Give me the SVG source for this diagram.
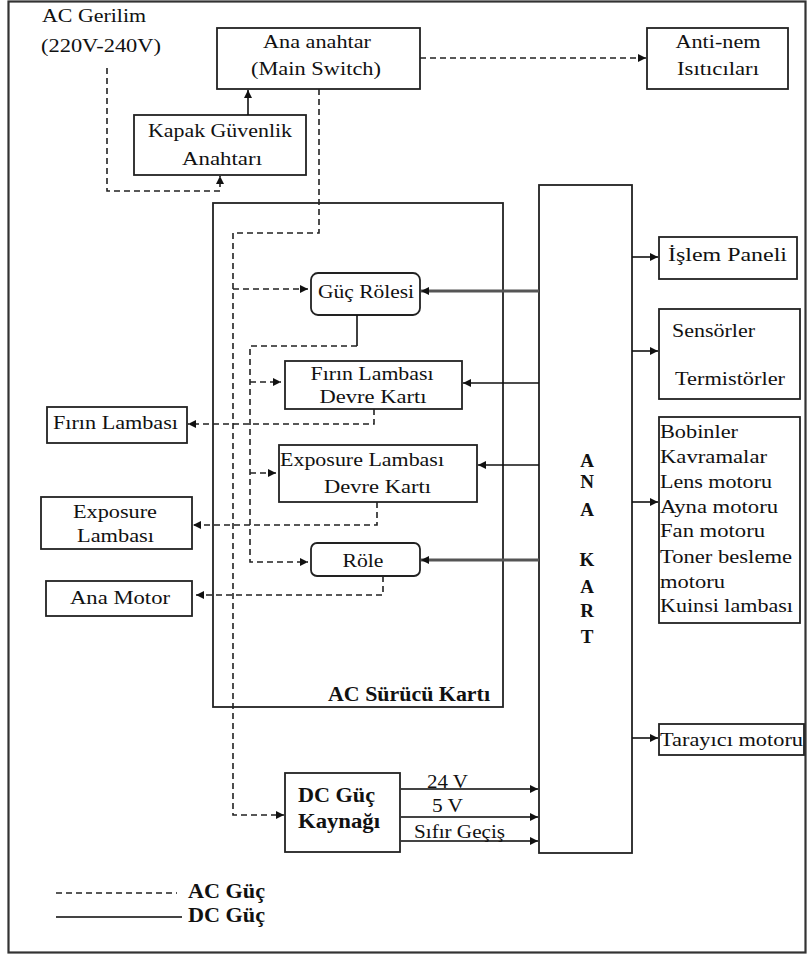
<svg xmlns="http://www.w3.org/2000/svg" width="809" height="955" viewBox="0 0 809 955">
<style>
  text { font-family: "Liberation Serif", "Times New Roman", serif; font-size: 19px; fill: #111; }
  .b { font-weight: bold; font-size: 20px; }
  .k { font-weight: bold; font-size: 19px; }
  .s18 { font-size: 18px; }
  .box { fill: #fff; stroke: #222; stroke-width: 1.8; }
  .ac { fill: none; stroke: #222; stroke-width: 1.6; stroke-dasharray: 6 4; }
  .dc { fill: none; stroke: #111; stroke-width: 1.6; }
  .dcg { fill: none; stroke: #555; stroke-width: 3; }
  .dc2 { fill: none; stroke: #444; stroke-width: 2.2; }
</style>
<defs>
  <marker id="ah" markerUnits="userSpaceOnUse" markerWidth="9" markerHeight="9" refX="8" refY="4" orient="auto">
    <path d="M0,0 L8,4 L0,8 z" fill="#111"/>
  </marker>
</defs>
<rect x="0" y="0" width="809" height="955" fill="#fff"/>
<rect x="8.5" y="1.5" width="797" height="951" fill="none" stroke="#333" stroke-width="2.2"/>

<g id="ac-source">
  <text x="42" y="22" textLength="104" lengthAdjust="spacingAndGlyphs">AC Gerilim</text>
  <text x="41" y="52" textLength="120" lengthAdjust="spacingAndGlyphs">(220V-240V)</text>
</g>
<g id="main-switch">
  <rect class="box" x="217" y="28" width="203" height="61"/>
  <text x="317" y="48" text-anchor="middle" textLength="108" lengthAdjust="spacingAndGlyphs">Ana anahtar</text>
  <text x="316" y="75" text-anchor="middle" textLength="130" lengthAdjust="spacingAndGlyphs">(Main Switch)</text>
</g>
<g id="anti-nem">
  <rect class="box" x="647" y="28" width="141" height="61"/>
  <text x="718" y="48" text-anchor="middle" textLength="85" lengthAdjust="spacingAndGlyphs">Anti-nem</text>
  <text x="718" y="75" text-anchor="middle" textLength="82" lengthAdjust="spacingAndGlyphs">Isıtıcıları</text>
</g>
<g id="kapak">
  <rect class="box" x="134" y="115" width="172" height="60"/>
  <text x="220" y="137" text-anchor="middle" textLength="144" lengthAdjust="spacingAndGlyphs">Kapak Güvenlik</text>
  <text x="222" y="165" text-anchor="middle" textLength="80" lengthAdjust="spacingAndGlyphs">Anahtarı</text>
</g>
<g id="ac-surucu">
  <rect x="213" y="203" width="290" height="504" fill="none" stroke="#222" stroke-width="1.8"/>
  <text class="b" x="328" y="701" textLength="162" lengthAdjust="spacingAndGlyphs">AC Sürücü Kartı</text>
</g>
<g id="ana-kart">
  <rect class="box" x="539" y="185" width="93" height="668"/>
  <text class="k" x="587" y="467" text-anchor="middle">A</text>
  <text class="k" x="587" y="488" text-anchor="middle">N</text>
  <text class="k" x="587" y="516" text-anchor="middle">A</text>
  <text class="k" x="587" y="566" text-anchor="middle">K</text>
  <text class="k" x="587" y="593" text-anchor="middle">A</text>
  <text class="k" x="587" y="617" text-anchor="middle">R</text>
  <text class="k" x="587" y="643" text-anchor="middle">T</text>
</g>
<g id="guc-rolesi">
  <rect class="box" x="311" y="273" width="109" height="42" rx="7"/>
  <text x="366" y="298" text-anchor="middle" textLength="96" lengthAdjust="spacingAndGlyphs">Güç Rölesi</text>
</g>
<g id="firin-kart">
  <rect class="box" x="285" y="361" width="177" height="48"/>
  <text x="372" y="380" text-anchor="middle" textLength="123" lengthAdjust="spacingAndGlyphs">Fırın Lambası</text>
  <text x="373" y="403" text-anchor="middle" textLength="107" lengthAdjust="spacingAndGlyphs">Devre Kartı</text>
</g>
<g id="exposure-kart">
  <rect class="box" x="279" y="445" width="198" height="57"/>
  <text x="280" y="466" textLength="164" lengthAdjust="spacingAndGlyphs">Exposure Lambası</text>
  <text x="324" y="493" textLength="107" lengthAdjust="spacingAndGlyphs">Devre Kartı</text>
</g>
<g id="role">
  <rect class="box" x="311" y="543" width="109" height="33" rx="6"/>
  <text x="363" y="567" text-anchor="middle" textLength="41" lengthAdjust="spacingAndGlyphs">Röle</text>
</g>
<g id="firin-lamba">
  <rect class="box" x="47" y="407" width="140" height="36"/>
  <text x="53" y="429" textLength="125" lengthAdjust="spacingAndGlyphs">Fırın Lambası</text>
</g>
<g id="exposure-lamba">
  <rect class="box" x="41" y="497" width="151" height="52"/>
  <text x="73" y="518" textLength="84" lengthAdjust="spacingAndGlyphs">Exposure</text>
  <text x="77" y="542" textLength="77" lengthAdjust="spacingAndGlyphs">Lambası</text>
</g>
<g id="ana-motor">
  <rect class="box" x="46" y="581" width="146" height="35"/>
  <text x="70" y="604" textLength="100" lengthAdjust="spacingAndGlyphs">Ana Motor</text>
</g>
<g id="islem-paneli">
  <rect class="box" x="659" y="237" width="138" height="42"/>
  <text x="668" y="261" textLength="119" lengthAdjust="spacingAndGlyphs">İşlem  Paneli</text>
</g>
<g id="sensorler">
  <rect class="box" x="659" y="309" width="141" height="90"/>
  <text x="672" y="337" textLength="83" lengthAdjust="spacingAndGlyphs">Sensörler</text>
  <text x="675" y="385" textLength="110" lengthAdjust="spacingAndGlyphs">Termistörler</text>
</g>
<g id="bobinler">
  <rect class="box" x="659" y="417" width="141" height="206"/>
  <text class="s18" x="660" y="438" textLength="78" lengthAdjust="spacingAndGlyphs">Bobinler</text>
  <text class="s18" x="660" y="463" textLength="107" lengthAdjust="spacingAndGlyphs">Kavramalar</text>
  <text class="s18" x="660" y="488" textLength="112" lengthAdjust="spacingAndGlyphs">Lens motoru</text>
  <text class="s18" x="660" y="513" textLength="118" lengthAdjust="spacingAndGlyphs">Ayna motoru</text>
  <text class="s18" x="660" y="537" textLength="105" lengthAdjust="spacingAndGlyphs">Fan motoru</text>
  <text class="s18" x="660" y="563" textLength="132" lengthAdjust="spacingAndGlyphs">Toner besleme</text>
  <text class="s18" x="660" y="588" textLength="65" lengthAdjust="spacingAndGlyphs">motoru</text>
  <text class="s18" x="660" y="612" textLength="133" lengthAdjust="spacingAndGlyphs">Kuinsi lambası</text>
</g>
<g id="tarayici">
  <rect class="box" x="659" y="724" width="145" height="31"/>
  <text x="660" y="746" textLength="143" lengthAdjust="spacingAndGlyphs">Tarayıcı motoru</text>
</g>
<g id="dc-guc">
  <rect class="box" x="285" y="773" width="115" height="79"/>
  <text class="b" x="298" y="802" textLength="77" lengthAdjust="spacingAndGlyphs">DC Güç</text>
  <text class="b" x="298" y="828" textLength="82" lengthAdjust="spacingAndGlyphs">Kaynağı</text>
</g>

<g id="connectors">
  <path class="ac" d="M107,68 V191 H220 V176" marker-end="url(#ah)"/>
  <path class="dc" d="M248,115 V90" marker-end="url(#ah)"/>
  <path class="ac" d="M420,58 H646" marker-end="url(#ah)"/>
  <path class="ac" d="M319,89 V233 H233 V815 H284" marker-end="url(#ah)"/>
  <path class="ac" d="M233,289 H308" marker-end="url(#ah)"/>
  <path class="dc" d="M357,315 V346"/>
  <path class="ac" d="M357,346 H250 V562 H308" marker-end="url(#ah)"/>
  <path class="ac" d="M250,382 H281" marker-end="url(#ah)"/>
  <path class="ac" d="M250,473 H276" marker-end="url(#ah)"/>
  <path class="ac" d="M374,409 V424 H188" marker-end="url(#ah)"/>
  <path class="ac" d="M377,502 V525 H193" marker-end="url(#ah)"/>
  <path class="ac" d="M383,576 V595 H196" marker-end="url(#ah)"/>

  <path class="dcg" d="M539,291 H421" marker-end="url(#ah)"/>
  <path class="dc" d="M539,383 H463" marker-end="url(#ah)"/>
  <path class="dc" d="M539,465 H478" marker-end="url(#ah)"/>
  <path class="dcg" d="M539,560 H421" marker-end="url(#ah)"/>
  <path class="dc" d="M632,257 H658" marker-end="url(#ah)"/>
  <path class="dc" d="M632,351 H658" marker-end="url(#ah)"/>
  <path class="dc" d="M632,502 H658" marker-end="url(#ah)"/>
  <path class="dc" d="M632,738 H658" marker-end="url(#ah)"/>

  <path class="dc2" d="M401,789 H538" marker-end="url(#ah)"/>
  <path class="dc2" d="M401,817 H538" marker-end="url(#ah)"/>
  <path class="dc2" d="M401,841 H538" marker-end="url(#ah)"/>
  <text x="427" y="788" textLength="41" lengthAdjust="spacingAndGlyphs">24 V</text>
  <text x="432" y="812" textLength="31" lengthAdjust="spacingAndGlyphs">5 V</text>
  <text x="414" y="838" textLength="91" lengthAdjust="spacingAndGlyphs">Sıfır Geçiş</text>
</g>

<g id="legend">
  <line class="ac" x1="56" y1="893" x2="177" y2="893"/>
  <line class="dc2" x1="56" y1="917" x2="182" y2="917"/>
  <text class="b" x="188" y="898" textLength="77" lengthAdjust="spacingAndGlyphs">AC Güç</text>
  <text class="b" x="188" y="922" textLength="77" lengthAdjust="spacingAndGlyphs">DC Güç</text>
</g>
</svg>
